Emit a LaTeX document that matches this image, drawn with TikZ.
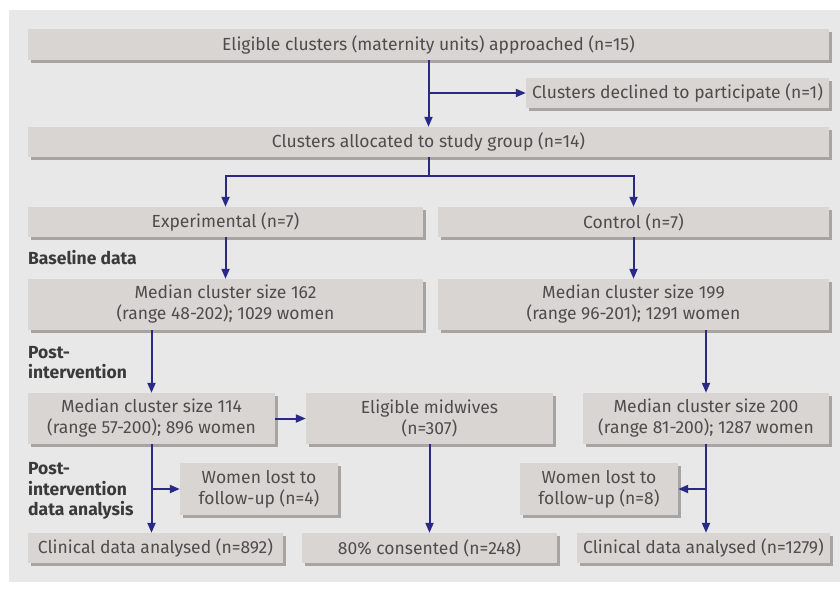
\documentclass[tikz,border=0pt]{standalone}
\usepackage{fontspec}
\setmainfont{Fira Sans}
\usetikzlibrary{arrows.meta,shadows,calc}
\definecolor{panel}{HTML}{E8E8E8}
\definecolor{boxfill}{HTML}{D9D5D2}
\definecolor{boxshadow}{HTML}{A8A4A2}
\definecolor{txt}{HTML}{4D4D4D}
\definecolor{lbl}{HTML}{3A3A3A}
\definecolor{arr}{HTML}{2A2A86}
\tikzset{
  box/.style={rectangle, fill=boxfill, text=txt, align=center, inner sep=0pt,
    font=\fontsize{17.5}{21}\selectfont,
    drop shadow={shadow xshift=3pt, shadow yshift=-3pt, fill=boxshadow, opacity=1}},
  lab/.style={anchor=west, align=left, text=lbl, inner sep=0pt,
    font=\fontsize{17.5}{20.5}\selectfont\bfseries},
  conn/.style={draw=arr, line width=2pt, -{Triangle[length=10pt,width=8pt]}},
  plain/.style={draw=arr, line width=2pt}
}
\begin{document}
\begin{tikzpicture}[x=1pt,y=-1pt]
\useasboundingbox (0,0) rectangle (840,591);
\fill[panel] (9,10) rectangle (840,582);

\node[box, minimum width=801pt, minimum height=31pt] (top) at (428.5,44.5) {Eligible clusters (maternity units) approached (n=15)};
\node[box, minimum width=303pt, minimum height=30pt] (decl) at (677.5,93) {Clusters declined to participate (n=1)};
\node[box, minimum width=801pt, minimum height=30pt] (alloc) at (428.5,142) {Clusters allocated to study group (n=14)};
\node[box, minimum width=395pt, minimum height=30pt] (exp) at (225.5,222) {Experimental (n=7)};
\node[box, minimum width=391pt, minimum height=30pt] (ctrl) at (633.5,222) {Control (n=7)};
\node[box, minimum width=395pt, minimum height=51pt] (m162) at (225.5,304.5) {Median cluster size 162\\(range 48-202); 1029 women};
\node[box, minimum width=391pt, minimum height=51pt] (m199) at (633.5,304.5) {Median cluster size 199\\(range 96-201); 1291 women};
\node[box, minimum width=247pt, minimum height=51pt] (m114) at (151.5,418.5) {Median cluster size 114\\(range 57-200); 896 women};
\node[box, minimum width=247pt, minimum height=51pt] (midw) at (429.5,418.5) {Eligible midwives\\(n=307)};
\node[box, minimum width=246pt, minimum height=51pt] (m200) at (706,418.5) {Median cluster size 200\\(range 81-200); 1287 women};
\node[box, minimum width=158pt, minimum height=52pt] (lost4) at (259,489) {Women lost to\\follow-up (n=4)};
\node[box, minimum width=158pt, minimum height=52pt] (lost8) at (599,489) {Women lost to\\follow-up (n=8)};
\node[box, minimum width=255pt, minimum height=30pt] (c892) at (155.5,548) {Clinical data analysed (n=892)};
\node[box, minimum width=255pt, minimum height=30pt] (cons) at (429.5,548) {80\% consented (n=248)};
\node[box, minimum width=253pt, minimum height=30pt] (c1279) at (703.5,548) {Clinical data analysed (n=1279)};

\node[lab] (l1) at (28,258) {Baseline data};
\node[lab] (l2) at (28,362.5) {Post-\\intervention};
\node[lab] (l3) at (28,491) {Post-\\intervention\\data analysis};

\coordinate (j1) at (top.south |- decl.west);
\coordinate (j4) at (m114.south |- lost4.west);
\coordinate (j8) at (m200.south |- lost8.east);
\coordinate (split) at ($(alloc.south)+(0,19)$);

\draw[conn] (top.south) -- (alloc.north);
\draw[conn] (j1) -- (decl.west);
\draw[plain] (alloc.south) -- (split);
\draw[plain, line cap=rect] (split -| exp.north) -- (split -| ctrl.north);
\draw[conn] (split -| exp.north) -- (exp.north);
\draw[conn] (split -| ctrl.north) -- (ctrl.north);
\draw[conn] (exp.south) -- (m162.north);
\draw[conn] (ctrl.south) -- (m199.north);
\draw[conn] (m114.north |- m162.south) -- (m114.north);
\draw[conn] (m200.north |- m199.south) -- (m200.north);
\draw[conn] (m114.east) -- (midw.west);
\draw[conn] (m114.south) -- (m114.south |- c892.north);
\draw[conn] (j4) -- (lost4.west);
\draw[conn] (midw.south) -- (cons.north);
\draw[conn] (m200.south) -- (m200.south |- c1279.north);
\draw[conn] (j8) -- (lost8.east);
\end{tikzpicture}
\end{document}
